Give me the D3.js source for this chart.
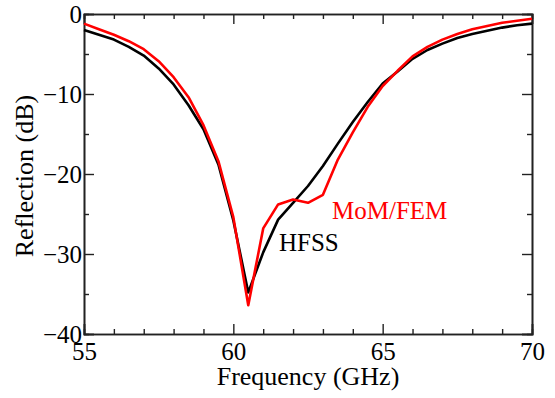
<!DOCTYPE html>
<html>
<head>
<meta charset="utf-8">
<script src="https://cdn.jsdelivr.net/npm/d3@7"></script>
<style>
    body { margin: 0; background: #fff; }
</style>
</head>
<body>
<script>
// frequency samples (GHz)
var freq = [55, 55.5, 56, 56.5, 57, 57.5, 58, 58.5, 59, 59.5, 60, 60.5, 61, 61.5, 62, 62.5,
    63, 63.5, 64, 64.5, 65, 65.5, 66, 66.5, 67, 67.5, 68, 68.5, 69, 69.5, 70];
// HFSS reflection (dB)
var hfss = [-2.0, -2.6, -3.2, -4.1, -5.2, -6.8, -8.8, -11.4, -14.4, -18.8, -25.8, -34.8, -29.8, -25.7, -23.6, -21.5,
    -19.0, -16.2, -13.5, -11.0, -8.7, -7.2, -5.6, -4.5, -3.7, -3.0, -2.5, -2.1, -1.7, -1.4, -1.2];
// MoM/FEM reflection (dB)
var momfem = [-1.2, -1.9, -2.6, -3.4, -4.4, -5.9, -7.9, -10.4, -13.9, -18.4, -25.4, -36.4, -26.8, -23.8, -23.2, -23.6,
    -22.6, -18.2, -14.8, -11.6, -9.0, -7.1, -5.3, -4.1, -3.2, -2.5, -1.9, -1.5, -1.1, -0.85, -0.6];
var xMajor = [55, 60, 65, 70],
    xMinor = [56, 57, 58, 59, 61, 62, 63, 64, 66, 67, 68, 69],
    yMajor = [0, -10, -20, -30, -40],
    yMinor = [-5, -15, -25, -35];

var serif = "Liberation Serif";

var width = 555,
    height = 398,
    margin = {left: 84, right: 23, top: 14, bottom: 64};

var svg = d3.select("body").append("svg")
    .attr("width", width)
    .attr("height", height)
    .style("font-family", serif);

var x = d3.scaleLinear().domain([55, 70]).range([margin.left, width - margin.right]);
var y = d3.scaleLinear().domain([-40, 0]).range([height - margin.bottom, margin.top]);

var drawAxis = function (axis, transform, labels) {
    var g = svg.append("g").attr("transform", transform).call(axis);
    g.select(".domain").attr("stroke", "#222").attr("stroke-width", 1.6);
    g.selectAll(".tick line").attr("stroke", "#222").attr("stroke-width", 1.4);
    g.selectAll(".tick text")
        .attr("fill", "#000")
        .style("font-family", serif)
        .style("font-size", "25px");
    if (!labels) {
        g.selectAll(".tick text").remove();
    }
    return g;
};

var fmt = d3.format("d");
var bottom = height - margin.bottom,
    right = width - margin.right;

// minor ticks first, majors + labels on top
drawAxis(d3.axisBottom(x).tickValues(xMinor).tickSize(-5), "translate(0," + bottom + ")", false);
drawAxis(d3.axisTop(x).tickValues(xMinor).tickSize(-5), "translate(0," + margin.top + ")", false);
drawAxis(d3.axisLeft(y).tickValues(yMinor).tickSize(-5), "translate(" + margin.left + ",0)", false);
drawAxis(d3.axisRight(y).tickValues(yMinor).tickSize(-5), "translate(" + right + ",0)", false);

drawAxis(d3.axisBottom(x).tickValues(xMajor).tickSize(-10).tickPadding(8).tickFormat(fmt), "translate(0," + bottom + ")", true);
drawAxis(d3.axisTop(x).tickValues(xMajor).tickSize(-10), "translate(0," + margin.top + ")", false);
drawAxis(d3.axisLeft(y).tickValues(yMajor).tickSize(-10).tickPadding(2).tickFormat(fmt), "translate(" + margin.left + ",0)", true);
drawAxis(d3.axisRight(y).tickValues(yMajor).tickSize(-10), "translate(" + right + ",0)", false);

var line = function (vals) {
    return d3.line()
        .x(function (d, i) { return x(freq[i]); })
        .y(function (d) { return y(d); })(vals);
};

svg.append("path")
    .attr("d", line(hfss))
    .attr("fill", "none")
    .attr("stroke", "#000")
    .attr("stroke-width", 2.6)
    .attr("stroke-linejoin", "round");
svg.append("path")
    .attr("d", line(momfem))
    .attr("fill", "none")
    .attr("stroke", "#ff0000")
    .attr("stroke-width", 2.6)
    .attr("stroke-linejoin", "round");

svg.append("text")
    .attr("x", 332).attr("y", 219)
    .attr("fill", "#ff0000")
    .style("font-size", "25px")
    .text("MoM/FEM");
svg.append("text")
    .attr("x", 279).attr("y", 251)
    .attr("fill", "#000")
    .style("font-size", "25px")
    .text("HFSS");

svg.append("text")
    .attr("x", 308).attr("y", 385)
    .attr("text-anchor", "middle")
    .style("font-size", "26px")
    .text("Frequency (GHz)");
svg.append("text")
    .attr("transform", "translate(33,176) rotate(-90)")
    .attr("text-anchor", "middle")
    .style("font-size", "26px")
    .text("Reflection (dB)");
</script>
</body>
</html>
